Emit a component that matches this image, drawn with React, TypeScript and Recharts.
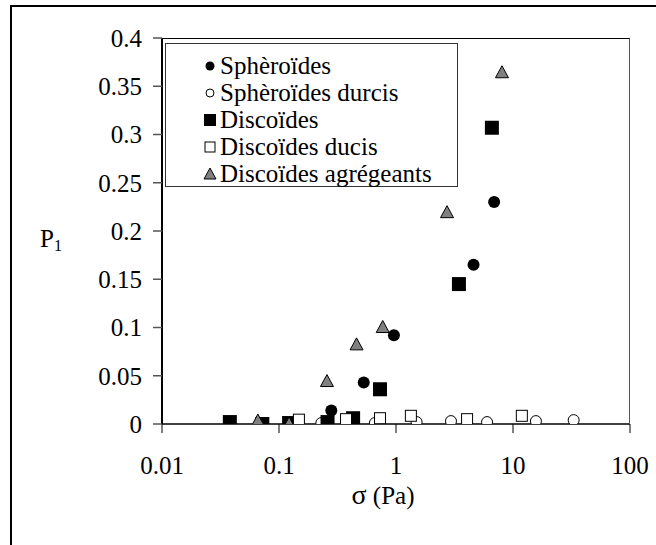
import React from "react";
import { ScatterChart, Scatter, XAxis, YAxis } from "recharts";

const xTicks = [0.01, 0.1, 1, 10, 100];
const yTicks = [0, 0.05, 0.1, 0.15, 0.2, 0.25, 0.3, 0.35, 0.4];

const spheroidesX = [0.28, 0.53, 0.96, 4.6, 6.9];
const spheroidesY = [0.014, 0.043, 0.092, 0.165, 0.23];

const spheroidesDurcisX = [0.23, 0.38, 0.66, 1.5, 2.95, 6.0, 15.7, 33];
const spheroidesDurcisY = [0.001, 0.001, 0.001, 0.002, 0.003, 0.002, 0.003, 0.004];

const discoidesX = [0.038, 0.072, 0.122, 0.26, 0.43, 0.73, 3.45, 6.6];
const discoidesY = [0.002, 0.0, 0.001, 0.002, 0.006, 0.036, 0.145, 0.307];

const discoidesDucisX = [0.148, 0.374, 0.73, 1.34, 4.05, 11.9];
const discoidesDucisY = [0.0045, 0.005, 0.006, 0.0085, 0.005, 0.0085];

const agregeantsX = [0.066, 0.122, 0.257, 0.46, 0.77, 2.73, 8.05];
const agregeantsY = [0.003, 0.0, 0.044, 0.082, 0.1, 0.219, 0.364];

const zip = (xs: number[], ys: number[]) => xs.map((x, i) => ({ x, y: ys[i] }));

const FONT = '"Liberation Serif", "Times New Roman", serif';

const FilledCircle = (p: any) => <circle cx={p.cx} cy={p.cy} r={6} fill="#000" />;
const OpenCircle = (p: any) => (
  <circle cx={p.cx} cy={p.cy} r={5.5} fill="#fff" stroke="#000" strokeWidth={1} />
);
const FilledSquare = (p: any) => (
  <rect x={p.cx - 7} y={p.cy - 7} width={14} height={14} fill="#000" />
);
const OpenSquare = (p: any) => (
  <rect x={p.cx - 5.5} y={p.cy - 5.5} width={11} height={11} fill="#fff" stroke="#000" strokeWidth={1} />
);
const Triangle = (p: any) => (
  <polygon
    points={`${p.cx},${p.cy - 7} ${p.cx - 6.5},${p.cy + 5} ${p.cx + 6.5},${p.cy + 5}`}
    fill="#808080"
    stroke="#000"
    strokeWidth={1}
  />
);

const legendItems = [
  { name: "Sphèroïdes", icon: <circle cx={10} cy={10} r={4.5} fill="#000" /> },
  { name: "Sphèroïdes durcis", icon: <circle cx={10} cy={10} r={4} fill="#fff" stroke="#000" /> },
  { name: "Discoïdes", icon: <rect x={4} y={4} width={12} height={12} fill="#000" /> },
  { name: "Discoïdes ducis", icon: <rect x={5} y={5} width={10} height={10} fill="#fff" stroke="#000" /> },
  {
    name: "Discoïdes agrégeants",
    icon: <polygon points="10,4 4,15 16,15" fill="#808080" stroke="#000" />
  }
];

export default function App() {
  return (
    <div
      style={{
        position: "absolute",
        left: 0,
        top: 0,
        width: 656,
        height: 545,
        overflow: "hidden",
        background: "#fff",
        fontFamily: FONT
      }}
    >
      <div
        style={{
          position: "absolute",
          left: 10,
          top: 5,
          width: 700,
          height: 600,
          borderTop: "2px solid #000",
          borderLeft: "2px solid #000"
        }}
      />
      <ScatterChart
        width={656}
        height={545}
        margin={{ top: 38, right: 26, bottom: 61, left: 10 }}
        style={{ position: "absolute", left: 0, top: 0 }}
      >
        <XAxis
          dataKey="x"
          type="number"
          scale="log"
          domain={[0.01, 100]}
          ticks={xTicks}
          interval={0}
          allowDataOverflow
          height={60}
          tickSize={9}
          tickMargin={23}
          axisLine={{ stroke: "#000", strokeWidth: 1.5 }}
          tickLine={{ stroke: "#000" }}
          tick={{ fontSize: 25, fill: "#000", fontFamily: FONT }}
          tickFormatter={(v: number) => String(v)}
        />
        <YAxis
          dataKey="y"
          type="number"
          domain={[0, 0.4]}
          ticks={yTicks}
          interval={0}
          allowDataOverflow
          width={152}
          tickSize={9}
          tickMargin={11}
          axisLine={{ stroke: "#000", strokeWidth: 2 }}
          tickLine={{ stroke: "#555", strokeWidth: 1.5 }}
          tick={{ fontSize: 25, fill: "#000", fontFamily: FONT }}
          tickFormatter={(v: number) => String(v)}
        />
        <Scatter data={zip(spheroidesX, spheroidesY)} shape={FilledCircle} isAnimationActive={false} />
        <Scatter data={zip(spheroidesDurcisX, spheroidesDurcisY)} shape={OpenCircle} isAnimationActive={false} />
        <Scatter data={zip(discoidesX, discoidesY)} shape={FilledSquare} isAnimationActive={false} />
        <Scatter data={zip(discoidesDucisX, discoidesDucisY)} shape={OpenSquare} isAnimationActive={false} />
        <Scatter data={zip(agregeantsX, agregeantsY)} shape={Triangle} isAnimationActive={false} />
      </ScatterChart>
      {/* plot area frame (top + right) */}
      <div
        style={{
          position: "absolute",
          left: 162,
          top: 38,
          width: 468,
          height: 386,
          borderTop: "1px solid #000",
          borderRight: "1px solid #555",
          boxSizing: "border-box",
          pointerEvents: "none"
        }}
      />
      {/* legend */}
      <div
        style={{
          position: "absolute",
          left: 165,
          top: 43,
          width: 293,
          height: 144,
          border: "1px solid #333",
          boxSizing: "border-box",
          paddingTop: 8,
          background: "#fff"
        }}
      >
        {legendItems.map((it) => (
          <div key={it.name} style={{ display: "flex", alignItems: "center", height: 27 }}>
            <svg width={20} height={20} style={{ marginLeft: 34, marginRight: 0 }}>
              {it.icon}
            </svg>
            <span style={{ fontSize: 25, lineHeight: "27px", whiteSpace: "nowrap" }}>{it.name}</span>
          </div>
        ))}
      </div>
      <div
        style={{
          position: "absolute",
          left: 383,
          top: 495,
          transform: "translate(-50%, -50%)",
          fontSize: 25,
          whiteSpace: "nowrap"
        }}
      >
        <span style={{ fontSize: 28 }}>σ</span> (Pa)
      </div>
      <div
        style={{
          position: "absolute",
          left: 51,
          top: 240,
          transform: "translate(-50%, -50%)",
          fontSize: 25,
          whiteSpace: "nowrap"
        }}
      >
        P<sub style={{ fontSize: 16, verticalAlign: "-4px" }}>1</sub>
      </div>
    </div>
  );
}
